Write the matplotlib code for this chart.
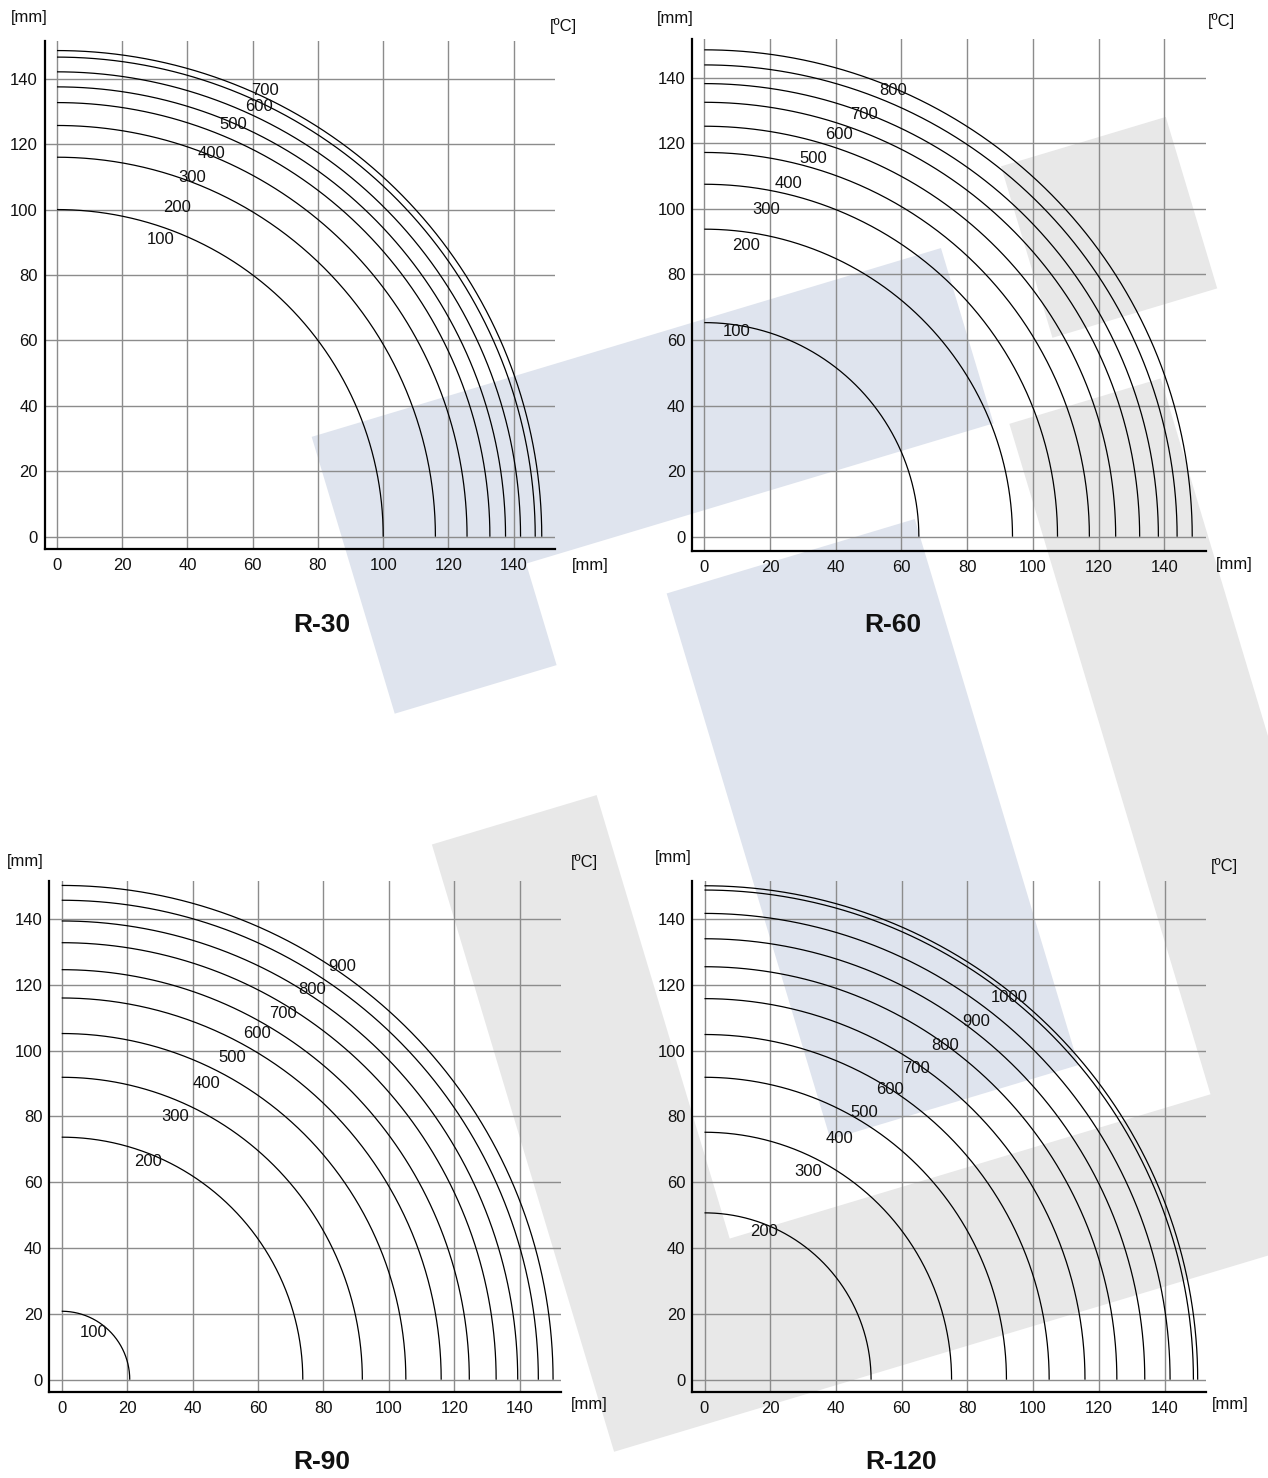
import numpy as np
import matplotlib
matplotlib.use("Agg")
import matplotlib.pyplot as plt
from matplotlib.patches import Polygon

plt.rcParams['font.family'] = ['Liberation Sans', 'DejaVu Sans']

W, H, DPI = 1268, 1478, 100

# ---------------- data ----------------
ticks = [0, 20, 40, 60, 80, 100, 120, 140]

r30_radii = [100.0, 116.0, 125.7, 132.7, 137.5, 142.1, 146.6, 148.6]
r30_labels = ['100', '200', '300', '400', '500', '600', '700']
r30_lx = [31.9, 36.8, 41.3, 47.4, 54.0, 61.9, 63.8]
r30_ly = [91.0, 100.7, 109.8, 117.0, 126.0, 131.5, 136.5]

r60_radii = [65.3, 93.8, 107.5, 117.2, 125.2, 132.5, 138.2, 143.9, 148.5]
r60_labels = ['100', '200', '300', '400', '500', '600', '700', '800']
r60_lx = [9.8, 12.7, 18.9, 25.5, 33.2, 41.0, 48.7, 57.6]
r60_ly = [62.7, 88.8, 99.8, 107.6, 115.5, 122.6, 128.8, 136.0]

r90_radii = [20.8, 73.7, 91.9, 105.2, 116.0, 124.6, 132.8, 139.4, 145.7, 150.2]
r90_labels = ['100', '200', '300', '400', '500', '600', '700', '800', '900']
r90_lx = [9.9, 26.5, 34.8, 44.3, 52.0, 59.8, 67.6, 76.5, 85.8]
r90_ly = [14.4, 66.3, 80.1, 90.1, 97.9, 105.1, 111.4, 118.6, 125.7]

r120_radii = [50.7, 75.2, 91.9, 104.9, 115.8, 125.5, 134.0, 141.7, 148.8, 150.1]
r120_labels = ['200', '300', '400', '500', '600', '700', '800', '900', '1000']
r120_lx = [18.1, 31.5, 41.0, 48.7, 56.5, 64.4, 73.2, 82.6, 92.8]
r120_ly = [45.0, 63.4, 73.4, 81.3, 88.2, 94.5, 101.7, 108.8, 116.1]

titles = ['R-30', 'R-60', 'R-90', 'R-120']

# ---------------- figure ----------------
fig = plt.figure(figsize=(W / DPI, H / DPI), dpi=DPI)
fig.patch.set_facecolor('white')

# background watermark (decoration) in a pixel-coordinate background axes
bg = fig.add_axes([0, 0, 1, 1], zorder=-10)
bg.set_xlim(0, W)
bg.set_ylim(H, 0)
bg.axis('off')
th = np.deg2rad(16.7)
c, s = np.cos(th), np.sin(th)


def uv_poly(pts, color):
    xy = [(u * c + v * s, -u * s + v * c) for u, v in pts]
    bg.add_patch(Polygon(xy, closed=True, facecolor=color, edgecolor='none'))


BLUE = '#dfe4ee'
GRAY = '#e8e8e8'
uv_poly([(173, 508), (830, 508), (830, 691), (342, 691), (342, 797), (173, 797)], BLUE)
uv_poly([(468, 760), (727, 760), (727, 1330), (468, 1330)], BLUE)
uv_poly([(911, 447), (1083, 447), (1083, 626), (911, 626)], GRAY)
uv_poly([(171, 933), (343, 933), (343, 1396), (845, 1396), (845, 696),
         (1003, 696), (1003, 1567), (171, 1567)], GRAY)


def make_axes(x0, x140, y0, y140, xlim, ylim):
    sx = (x140 - x0) / 140.0
    sy = (y0 - y140) / 140.0
    left = x0 + xlim[0] * sx
    right = x0 + xlim[1] * sx
    bottom = y0 - ylim[0] * sy
    top = y0 - ylim[1] * sy
    ax = fig.add_axes([left / W, 1 - bottom / H, (right - left) / W, (bottom - top) / H])
    ax.set_xlim(*xlim)
    ax.set_ylim(*ylim)
    return ax


panels = [
    dict(geo=(57.0, 513.7, 536.7, 78.7), xlim=(-3.7, 152.8), ylim=(-3.85, 151.5),
         radii=r30_radii, labels=r30_labels, lx=r30_lx, ly=r30_ly,
         mm_top=(29.5, 17.5), degc=(563.5, 26.3), mm_x=(590.0, 566.0), title=(322, 625)),
    dict(geo=(704.3, 1164.3, 536.7, 77.7), xlim=(-3.65, 152.7), ylim=(-4.27, 151.7),
         radii=r60_radii, labels=r60_labels, lx=r60_lx, ly=r60_ly,
         mm_top=(674.8, 18.5), degc=(1221.5, 21.2), mm_x=(1234.7, 565.0), title=(893, 625)),
    dict(geo=(61.7, 519.7, 1379.7, 919.0), xlim=(-3.8, 152.6), ylim=(-3.83, 151.6),
         radii=r90_radii, labels=r90_labels, lx=r90_lx, ly=r90_ly,
         mm_top=(25.0, 861.6), degc=(584.7, 862.3), mm_x=(589.4, 1404.5), title=(322, 1462)),
    dict(geo=(704.5, 1164.5, 1379.7, 919.0), xlim=(-3.7, 152.6), ylim=(-3.83, 151.6),
         radii=r120_radii, labels=r120_labels, lx=r120_lx, ly=r120_ly,
         mm_top=(673.1, 857.5), degc=(1224.8, 865.7), mm_x=(1230.0, 1404.5), title=(901, 1462)),
]

theta = np.linspace(0, np.pi / 2, 300)
FS = 12
TXT = '#111111'
for p, ttl in zip(panels, titles):
    ax = make_axes(*p['geo'], p['xlim'], p['ylim'])
    ax.set_facecolor('none')
    ax.set_xticks(ticks)
    ax.set_yticks(ticks)
    ax.set_xticklabels([str(t) for t in ticks])
    ax.set_yticklabels([str(t) for t in ticks])
    ax.tick_params(axis='x', length=0, pad=6.5, labelsize=FS, colors=TXT)
    ax.tick_params(axis='y', length=0, pad=5, labelsize=FS, colors=TXT)
    ax.grid(True, color='#8c8c8c', linewidth=1.0)
    ax.set_axisbelow(True)
    for sp in ['top', 'right']:
        ax.spines[sp].set_visible(False)
    for sp in ['left', 'bottom']:
        ax.spines[sp].set_linewidth(1.6)
        ax.spines[sp].set_color('black')
    for r in p['radii']:
        ax.plot(r * np.cos(theta), r * np.sin(theta), color='black', linewidth=0.9,
                solid_capstyle='butt', zorder=3)
    for lab, x, y in zip(p['labels'], p['lx'], p['ly']):
        ax.text(x, y, lab, ha='center', va='center', fontsize=FS, color=TXT, zorder=4)

    for key, txt in [('mm_top', '[mm]'), ('degc', '[ºC]'), ('mm_x', '[mm]')]:
        x, y = p[key]
        fig.text(x / W, 1 - y / H, txt, ha='center', va='center', fontsize=FS, color=TXT)
    x, y = p['title']
    fig.text(x / W, 1 - y / H, ttl, ha='center', va='center', fontsize=19,
             fontweight='bold', color=TXT)

fig.savefig('out.png', dpi=DPI, facecolor='white')
